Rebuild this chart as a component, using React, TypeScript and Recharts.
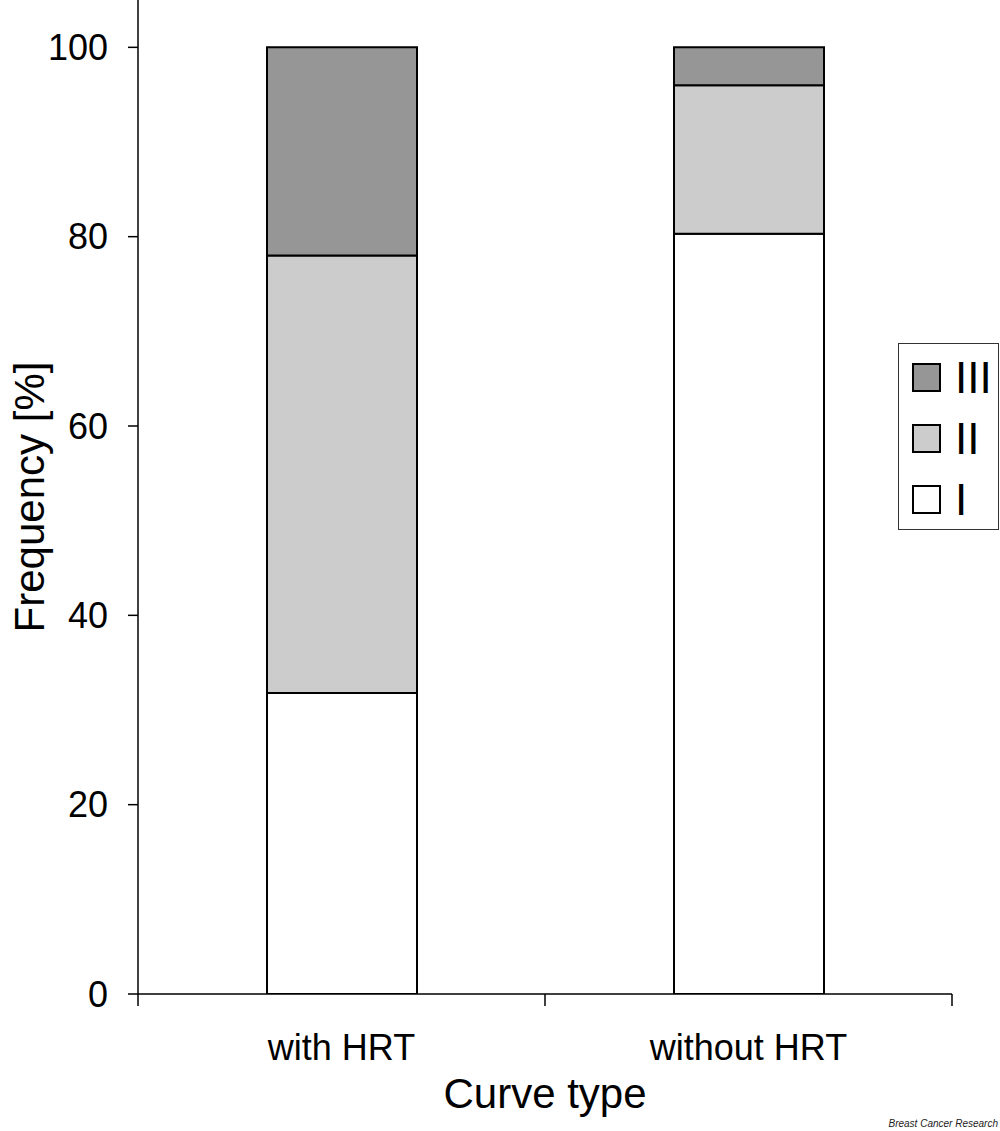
import React from 'react';
import { BarChart, Bar, XAxis, YAxis } from 'recharts';

const categories = ['with HRT', 'without HRT'];
const seriesI = [31.8, 80.3];
const seriesII = [46.2, 15.7];
const seriesIII = [22.0, 4.0];
const seriesKeys = ['I', 'II', 'III'];
const seriesColors = ['#ffffff', '#cccccc', '#969696'];
const yTicks = [0, 20, 40, 60, 80, 100];

const data = categories.map((c, i) => ({
  name: c,
  I: seriesI[i],
  II: seriesII[i],
  III: seriesIII[i],
}));

const W = 1000;
const H = 1131;
const M = { top: 0, right: 48, left: 0, bottom: 0 };
const Y_W = 138;
const X_H = 137;
const FONT = '"Liberation Sans", Arial, Helvetica, sans-serif';
const PLOT_W = W - M.left - M.right - Y_W;

const XTick = (props: any) => {
  const { x, y, payload } = props;
  const half = PLOT_W / categories.length / 2;
  const isLast = payload.index === categories.length - 1;
  return (
    <g>
      <line x1={x - half} y1={y} x2={x - half} y2={y + 12} stroke="#000" strokeWidth={1.5} />
      {isLast && <line x1={x + half} y1={y} x2={x + half} y2={y + 12} stroke="#000" strokeWidth={1.5} />}
      <text x={x} y={y + 66} textAnchor="middle" fontSize={36} fontFamily={FONT} fill="#000">
        {payload.value}
      </text>
    </g>
  );
};

const YLabel = (props: any) => {
  const vb = props.viewBox || { x: 0, y: 0, width: Y_W, height: 994 };
  const cx = vb.x + 29;
  const cy = vb.y + vb.height / 2;
  return (
    <text
      x={cx}
      y={cy}
      transform={`rotate(-90, ${cx}, ${cy})`}
      textAnchor="middle"
      dominantBaseline="central"
      fontSize={42}
      fontFamily={FONT}
      fill="#000"
    >
      Frequency [%]
    </text>
  );
};

const XLabel = (props: any) => {
  const vb = props.viewBox || { x: Y_W, y: 994, width: PLOT_W, height: X_H };
  return (
    <text x={vb.x + vb.width / 2} y={vb.y + 114} textAnchor="middle" fontSize={42} fontFamily={FONT} fill="#000">
      Curve type
    </text>
  );
};

const LegendBox = () => {
  const order = [...seriesKeys.keys()].reverse();
  return (
    <div
      style={{
        position: 'absolute',
        left: 898,
        top: 343,
        width: 99,
        height: 182,
        border: '1px solid #333',
        background: '#fff',
        boxSizing: 'content-box',
        fontFamily: FONT,
        paddingTop: 3,
      }}
    >
      {order.map((i) => (
        <div key={seriesKeys[i]} style={{ display: 'flex', alignItems: 'center', height: 61, paddingLeft: 13 }}>
          <div
            style={{
              width: 25,
              height: 25,
              background: seriesColors[i],
              border: '2px solid #000',
              boxSizing: 'content-box',
            }}
          />
          <span style={{ marginLeft: 14, fontSize: 44, lineHeight: '44px', color: '#000' }}>{seriesKeys[i]}</span>
        </div>
      ))}
    </div>
  );
};

export default function App() {
  return (
    <div style={{ position: 'absolute', left: 0, top: 0, width: W, height: H, background: '#fff' }}>
      <BarChart width={W} height={H} data={data} margin={M} barSize={150}>
        <XAxis
          dataKey="name"
          height={X_H}
          axisLine={{ stroke: '#000', strokeWidth: 1.5 }}
          tickLine={false}
          tickSize={0}
          tickMargin={0}
          tick={<XTick />}
          interval={0}
          label={<XLabel />}
        />
        <YAxis
          width={Y_W}
          domain={[0, 105]}
          ticks={yTicks}
          allowDataOverflow
          axisLine={{ stroke: '#000', strokeWidth: 1.5 }}
          tickLine={{ stroke: '#000', strokeWidth: 1.5 }}
          tickSize={10}
          tickMargin={20}
          tick={{ fontSize: 36, fontFamily: FONT, fill: '#000' }}
          label={<YLabel />}
        />
        {seriesKeys.map((k, i) => (
          <Bar
            key={k}
            dataKey={k}
            stackId="a"
            fill={seriesColors[i]}
            stroke="#000"
            strokeWidth={2}
            isAnimationActive={false}
          />
        ))}
      </BarChart>
      <LegendBox />
      <div
        style={{
          position: 'absolute',
          right: 2,
          top: 1118,
          fontSize: 10,
          fontStyle: 'italic',
          fontFamily: FONT,
          color: '#222',
        }}
      >
        Breast Cancer Research
      </div>
    </div>
  );
}
